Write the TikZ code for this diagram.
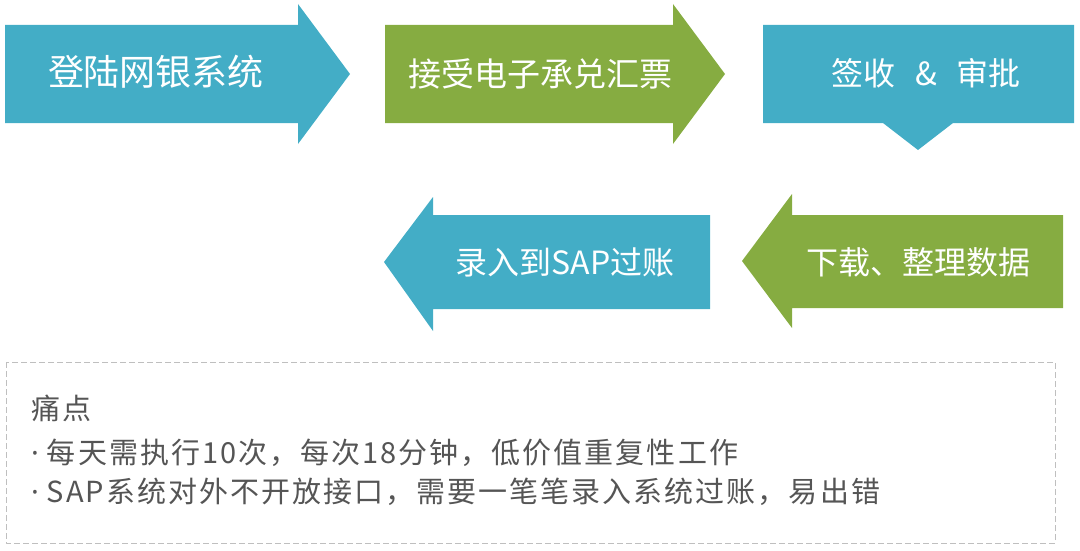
\documentclass[tikz,border=0pt]{standalone}
\usepackage{fontspec}
\setmainfont{Noto Sans CJK SC}
\newfontfamily\notefont[LetterSpace=7]{Noto Sans CJK SC}
\newfontfamily\dotfont{Noto Sans}
\definecolor{flowblue}{HTML}{43ADC6}
\definecolor{flowgreen}{HTML}{86AC41}
\definecolor{notegray}{HTML}{555555}
\newcommand{\notedot}{{\dotfont ·}\hspace{8pt}}
\tikzset{
  steplabel/.style={text=white,font=\fontsize{32}{36}\selectfont,inner sep=0pt},
  noteline/.style={text=notegray,font=\notefont\fontsize{29}{34}\selectfont,anchor=west,inner sep=0pt},
}

\begin{document}
\begin{tikzpicture}[x=1pt,y=-1pt,line join=round]
\useasboundingbox (0,0) rectangle (1080,551);
% top row
\fill[flowblue] (5,25) -- (298,25) -- (298,4) -- (350,74) -- (298,144) -- (298,123) -- (5,123) -- cycle;
\fill[flowgreen] (385,25) -- (673,25) -- (673,4) -- (725,74) -- (673,144) -- (673,123) -- (385,123) -- cycle;
\fill[flowblue] (763,25) -- (1074,25) -- (1074,123) -- (953,123) -- (918,150) -- (883,123) -- (763,123) -- cycle;
% bottom row
\fill[flowgreen] (1063,215) -- (792,215) -- (792,194) -- (742,261) -- (792,328) -- (792,308) -- (1063,308) -- cycle;
\fill[flowblue] (710,215) -- (433,215) -- (433,197) -- (384,262) -- (433,331) -- (433,309) -- (710,309) -- cycle;
\node[steplabel,font=\fontsize{36}{40}\selectfont] (login) at (156,72) {登陆网银系统};
\node[steplabel,font=\fontsize{33}{38}\selectfont] (accept) at (540,74) {接受电子承兑汇票};
\node[steplabel] (sign) at (926,73) {签收\hspace{20pt}\&\hspace{20pt}审批};
\node[steplabel] (fetch) at (918,262) {下载、整理数据};
\node[steplabel] (post) at (565,262) {录入到SAP过账};
% pain points
\draw[gray!50,line width=1pt,dash pattern=on 6pt off 3pt] (6,362) rectangle (1055,543);
\node[noteline] (pain) at (31,408) {痛点};
\node[noteline] (pain1) at (31,453) {\notedot 每天需执行10次，每次18分钟，低价值重复性工作};
\node[noteline] (pain2) at (31,492) {\notedot SAP系统对外不开放接口，需要一笔笔录入系统过账，易出错};
\end{tikzpicture}
\end{document}
